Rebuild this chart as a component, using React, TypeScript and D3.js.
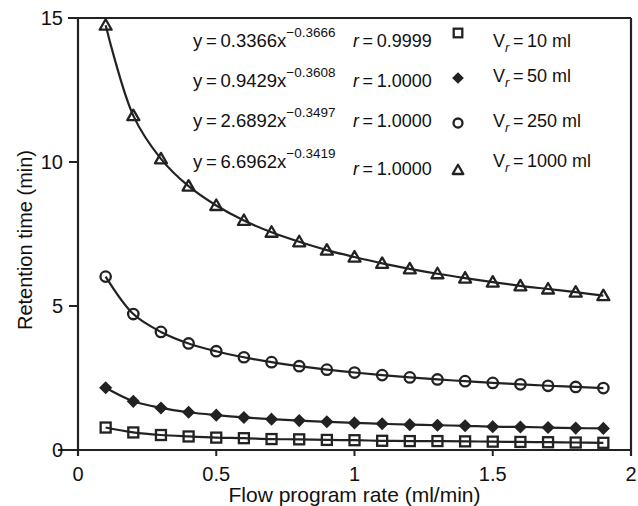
import React from "react";
import * as d3 from "d3";

const flowRates = [0.1, 0.2, 0.3, 0.4, 0.5, 0.6, 0.7, 0.8, 0.9, 1.0, 1.1, 1.2, 1.3, 1.4, 1.5, 1.6, 1.7, 1.8, 1.9];
const vr10 = [0.78, 0.61, 0.52, 0.47, 0.43, 0.41, 0.38, 0.37, 0.35, 0.34, 0.32, 0.31, 0.31, 0.3, 0.29, 0.28, 0.27, 0.26, 0.25];
const vr50 = [2.16, 1.69, 1.46, 1.31, 1.21, 1.13, 1.07, 1.02, 0.98, 0.94, 0.91, 0.88, 0.86, 0.84, 0.81, 0.8, 0.78, 0.76, 0.75];
const vr250 = [6.02, 4.72, 4.1, 3.7, 3.43, 3.22, 3.05, 2.91, 2.79, 2.69, 2.6, 2.52, 2.45, 2.39, 2.33, 2.28, 2.23, 2.19, 2.15];
const vr1000 = [14.75, 11.61, 10.11, 9.16, 8.49, 7.97, 7.56, 7.23, 6.94, 6.7, 6.48, 6.29, 6.12, 5.97, 5.83, 5.7, 5.59, 5.48, 5.36];

const seriesNames = ["10", "50", "250", "1000"];
const seriesMarkers = ["square", "diamond", "circle", "triangle"];
const coefA = ["0.3366", "0.9429", "2.6892", "6.6962"];
const coefB = ["\u22120.3666", "\u22120.3608", "\u22120.3497", "\u22120.3419"];
const rValues = ["0.9999", "1.0000", "1.0000", "1.0000"];

const xTicks = [0, 0.5, 1, 1.5, 2];
const yTicks = [0, 5, 10, 15];

const W = 638;
const H = 506;
const FONT = "'Liberation Sans', Arial, Helvetica, sans-serif";
const INK = "#222";

function Marker({ kind, cx, cy, s = 5 }: { kind: string; cx: number; cy: number; s?: number }) {
  if (kind === "square") {
    return <rect x={cx - s} y={cy - s} width={2 * s} height={2 * s} fill="none" stroke={INK} strokeWidth={2.3} />;
  }
  if (kind === "diamond") {
    const d = s + 0.5;
    return (
      <path
        d={`M${cx},${cy - d}L${cx + d},${cy}L${cx},${cy + d}L${cx - d},${cy}Z`}
        fill={INK}
        stroke={INK}
        strokeWidth={1.5}
      />
    );
  }
  if (kind === "circle") {
    return <circle cx={cx} cy={cy} r={s + 0.2} fill="none" stroke={INK} strokeWidth={2.3} />;
  }
  const t = s + 1;
  return (
    <path
      d={`M${cx},${cy - t}L${cx + t},${cy + t * 0.75}L${cx - t},${cy + t * 0.75}Z`}
      fill="none"
      stroke={INK}
      strokeWidth={2.3}
      strokeLinejoin="round"
    />
  );
}

export default function App() {
  const x = d3.scaleLinear().domain([0, 2]).range([78, 631]);
  const y = d3.scaleLinear().domain([0, 15]).range([450, 18]);
  const allSeries = [vr10, vr50, vr250, vr1000];

  const line = d3
    .line<[number, number]>()
    .x((d) => x(d[0]))
    .y((d) => y(d[1]))
    .curve(d3.curveCatmullRom.alpha(0.5));

  const eqY = [47, 87, 127, 168];
  const rY = [47, 87, 127, 175];
  const legMarkY = [33, 78, 123, 170];
  const legLabelY = [47, 82, 127, 167];

  return (
    <svg width={W} height={H} style={{ position: "absolute", left: 0, top: 0, background: "#fff" }} fontFamily={FONT}>
      <rect x={0} y={0} width={W} height={H} fill="#fff" />
      {/* frame */}
      <line x1={x(0)} y1={y(15)} x2={x(0)} y2={456} stroke={INK} strokeWidth={2.2} />
      <line x1={58} y1={y(0)} x2={x(2)} y2={y(0)} stroke={INK} strokeWidth={2.2} />
      <line x1={68} y1={y(15)} x2={x(2)} y2={y(15)} stroke={INK} strokeWidth={2.2} />
      <line x1={x(2)} y1={y(15)} x2={x(2)} y2={456} stroke={INK} strokeWidth={2.2} />
      {yTicks.map((t) => (
        <g key={"yt" + t}>
          <line x1={69} x2={x(0)} y1={y(t)} y2={y(t)} stroke={INK} strokeWidth={2} />
          <text x={63} y={y(t)} dy="0.35em" textAnchor="end" fontSize={20} fill="#111">
            {t}
          </text>
        </g>
      ))}
      {xTicks.map((t) => (
        <g key={"xt" + t}>
          <line x1={x(t)} x2={x(t)} y1={y(0)} y2={456} stroke={INK} strokeWidth={2} />
          <text x={x(t)} y={481} textAnchor="middle" fontSize={20} fill="#111">
            {t}
          </text>
        </g>
      ))}
      <text x={(x(0) + x(2)) / 2} y={502} textAnchor="middle" fontSize={21} fill="#111">
        Flow program rate (ml/min)
      </text>
      <text transform="translate(32,240) rotate(-90)" textAnchor="middle" fontSize={20} fill="#111">
        Retention time (min)
      </text>

      {/* curves and markers */}
      {allSeries.map((vals, si) => {
        const pts: [number, number][] = flowRates.map((f, i) => [f, vals[i]]);
        return (
          <g key={"s" + si}>
            <path d={line(pts) || ""} fill="none" stroke={INK} strokeWidth={2.2} />
            {pts.map((p, i) => (
              <Marker key={i} kind={seriesMarkers[si]} cx={x(p[0])} cy={y(p[1])} />
            ))}
          </g>
        );
      })}

      {/* equations */}
      {coefA.map((a, i) => (
        <g key={"eq" + i}>
          <text x={193} y={eqY[i]} fontSize={18.5} fill="#111">
            {"y\u2009=\u2009" + a + "x"}
            <tspan dy={-10} fontSize={13.5}>
              {coefB[i]}
            </tspan>
          </text>
          <text x={353} y={rY[i]} fontSize={18} fill="#111">
            <tspan fontStyle="italic">r</tspan>
            {"\u2009=\u2009" + rValues[i]}
          </text>
        </g>
      ))}

      {/* legend */}
      {seriesNames.map((n, i) => (
        <g key={"lg" + i}>
          <Marker kind={seriesMarkers[i]} cx={458} cy={legMarkY[i]} s={4.3} />
          <text x={493} y={legLabelY[i]} fontSize={18} fill="#111">
            V
            <tspan fontStyle="italic" fontSize={13} dy={5}>
              r
            </tspan>
            <tspan dy={-5}>{"\u2009=\u2009" + n + " ml"}</tspan>
          </text>
        </g>
      ))}
    </svg>
  );
}
